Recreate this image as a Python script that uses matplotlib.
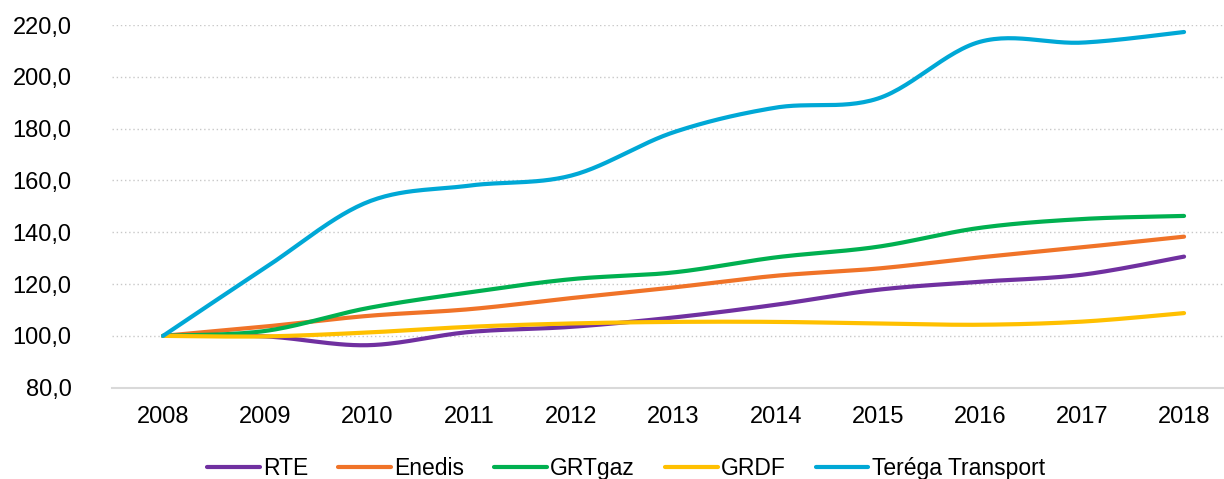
import numpy as np
import matplotlib
matplotlib.use('Agg')
import matplotlib.pyplot as plt
from matplotlib.ticker import FuncFormatter

plt.rcParams['font.family'] = ['Liberation Sans', 'DejaVu Sans']

# données (indice base 100 en 2008)
years = [2008, 2009, 2010, 2011, 2012, 2013, 2014, 2015, 2016, 2017, 2018]
rte = [100, 99.8, 96.4, 101.5, 103.5, 107.1, 112.0, 117.8, 120.9, 123.6, 130.6]
enedis = [100, 103.6, 107.7, 110.3, 114.6, 118.7, 123.2, 126.0, 130.3, 134.2, 138.3]
grtgaz = [100, 101.9, 110.7, 116.8, 121.9, 124.5, 130.3, 134.4, 141.7, 145.1, 146.3]
grdf = [100, 99.8, 101.3, 103.5, 104.8, 105.4, 105.4, 104.8, 104.3, 105.5, 108.8]
terega = [100, 126.3, 151.6, 158.0, 161.9, 178.6, 188.1, 191.6, 213.5, 213.2, 217.3]

series = [
    ('RTE', rte, '#7030A0'),
    ('Enedis', enedis, '#F07328'),
    ('GRTgaz', grtgaz, '#00B050'),
    ('GRDF', grdf, '#FFC000'),
    ('Teréga Transport', terega, '#00A8D6'),
]


# courbe lissée façon Excel (Bézier type Catmull-Rom)
def smooth(x, y, n=30):
    x = np.asarray(x, float)
    y = np.asarray(y, float)
    px = np.concatenate([[x[0]], x, [x[-1]]])
    py = np.concatenate([[y[0]], y, [y[-1]]])
    xs, ys = [], []
    t = np.linspace(0, 1, n)
    for i in range(1, len(px) - 2):
        p0 = np.array([px[i], py[i]])
        p3 = np.array([px[i + 1], py[i + 1]])
        c1 = p0 + (np.array([px[i + 1], py[i + 1]]) - np.array([px[i - 1], py[i - 1]])) / 6
        c2 = p3 - (np.array([px[i + 2], py[i + 2]]) - np.array([px[i], py[i]])) / 6
        b = ((1 - t) ** 3)[:, None] * p0 + (3 * (1 - t) ** 2 * t)[:, None] * c1 \
            + (3 * (1 - t) * t ** 2)[:, None] * c2 + (t ** 3)[:, None] * p3
        xs.extend(b[:, 0])
        ys.extend(b[:, 1])
    return xs, ys


fig = plt.figure(figsize=(12.24, 4.79), dpi=100)
ax = fig.add_axes([112 / 1224, 0.1906, 1 - 112 / 1224, 0.7572])

for name, vals, col in series:
    sx, sy = smooth(years, vals)
    ax.plot(sx, sy, color=col, lw=3, label=name, solid_capstyle='round')

ax.set_xlim(2007.5, 2007.5 + (1224 - 112) / 102.1)
ax.set_ylim(80, 220)
ax.set_yticks(np.arange(80, 221, 20))
ax.set_xticks(years)
ax.yaxis.set_major_formatter(FuncFormatter(lambda v, p: f'{v:.1f}'.replace('.', ',')))

ax.grid(axis='y', color='#c8c8c8', linestyle=(0, (1, 2)), lw=1)
ax.set_axisbelow(True)
for s in ['top', 'right', 'left']:
    ax.spines[s].set_visible(False)
ax.spines['bottom'].set_color('#d9d9d9')
ax.spines['bottom'].set_linewidth(1.5)
ax.tick_params(axis='both', length=0, labelsize=17, colors='#000000')
ax.tick_params(axis='y', pad=29)
ax.tick_params(axis='x', pad=13)

fig.legend(loc='center', bbox_to_anchor=(626 / 1224, 0.022), ncol=5, frameon=False,
           fontsize=16.5, handlelength=2.3, handletextpad=0.15, columnspacing=1.3)

plt.savefig('out.png', dpi=100)
